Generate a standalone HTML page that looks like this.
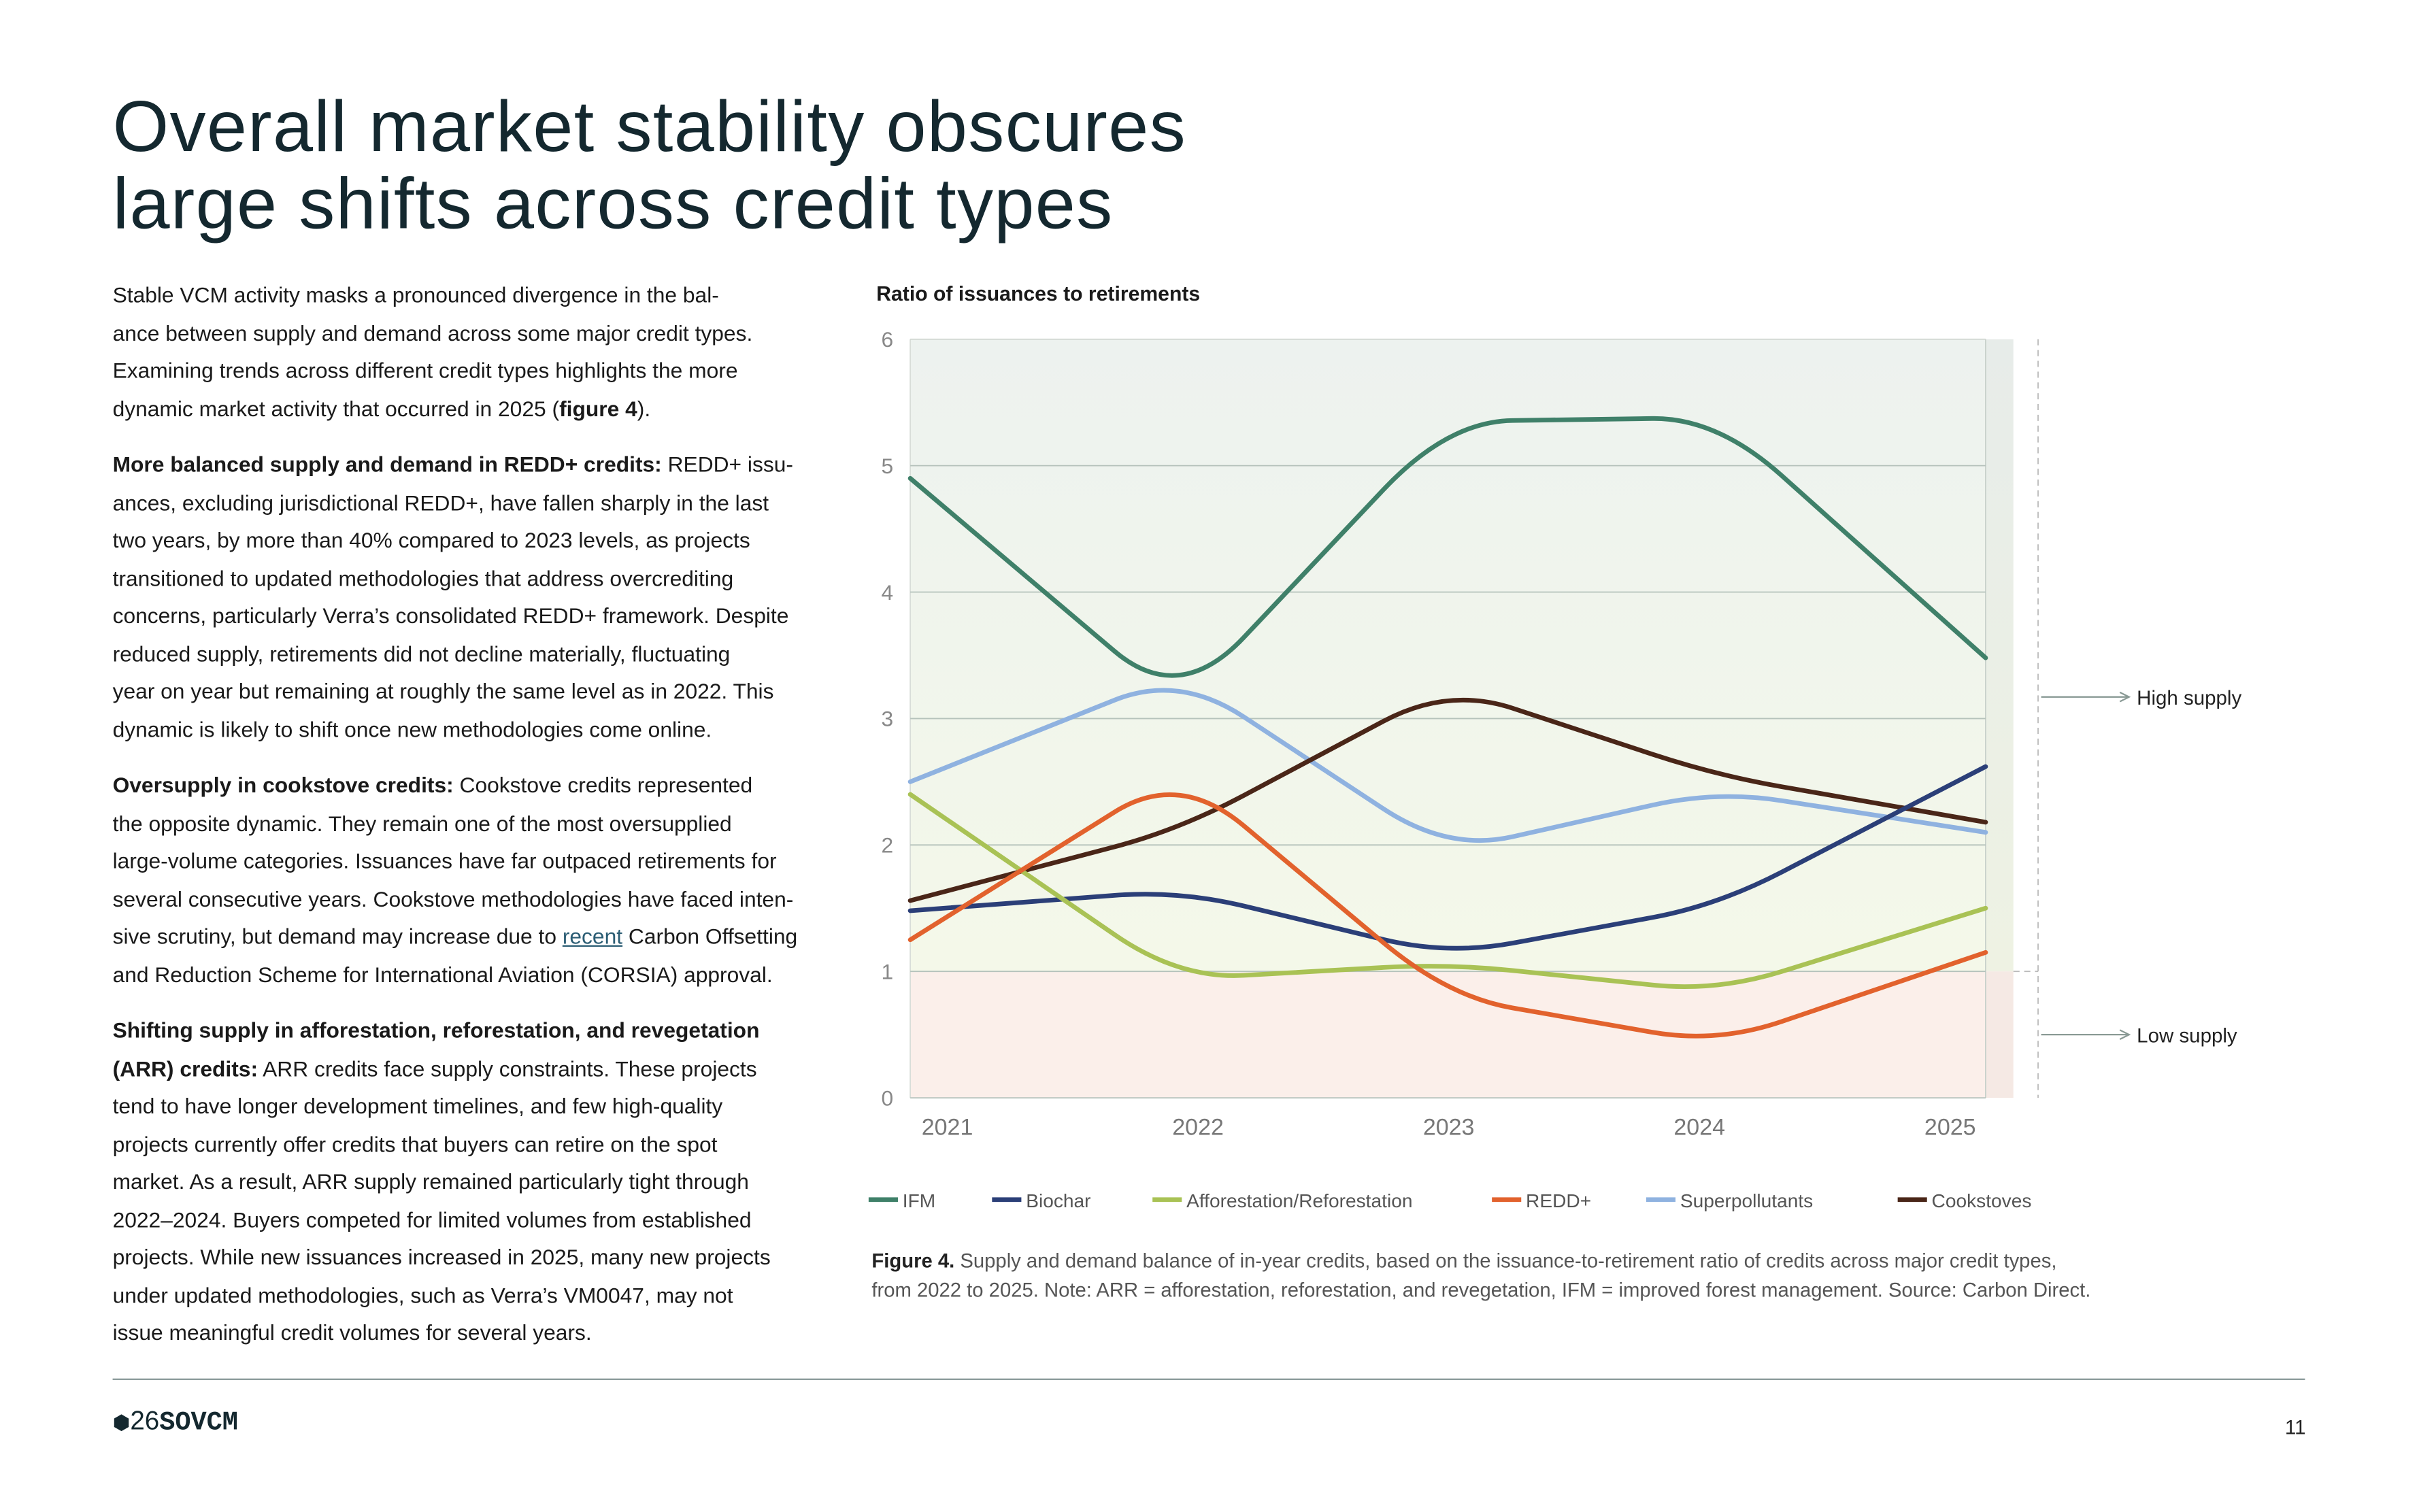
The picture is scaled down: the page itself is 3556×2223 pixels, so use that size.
<!DOCTYPE html>
<html><head><meta charset="utf-8"><style>
html,body{margin:0;padding:0;background:#fff;overflow:hidden}
#wrap{position:absolute;left:0;top:0;width:1556px;height:973px;transform:scale(2.268,2.267);transform-origin:0 0;font-family:"Liberation Sans",sans-serif;color:#1a1a1a}
.t{position:absolute;white-space:nowrap}
h1{position:absolute;left:73px;top:57px;margin:0;font-weight:400;font-size:46.8px;line-height:50px;color:#14282f;letter-spacing:0.6px}
.body{position:absolute;left:73px;font-size:14px;line-height:24.5px;color:#1a1a1a}
.body div{white-space:nowrap}
b{font-weight:700}
.cap{position:absolute;left:565px;top:808px;font-size:12.9px;line-height:19px;color:#555;white-space:nowrap}
</style></head><body>
<div id="wrap">
<h1>Overall market stability obscures<br>large shifts across credit types</h1>

<div class="body" style="top:179px">
<div>Stable VCM activity masks a pronounced divergence in the bal-</div>
<div>ance between supply and demand across some major credit types.</div>
<div>Examining trends across different credit types highlights the more</div>
<div>dynamic market activity that occurred in 2025 (<b>figure 4</b>).</div>
</div>
<div class="body" style="top:289px">
<div><b>More balanced supply and demand in REDD+ credits:</b> REDD+ issu-</div>
<div>ances, excluding jurisdictional REDD+, have fallen sharply in the last</div>
<div>two years, by more than 40% compared to 2023 levels, as projects</div>
<div>transitioned to updated methodologies that address overcrediting</div>
<div>concerns, particularly Verra’s consolidated REDD+ framework. Despite</div>
<div>reduced supply, retirements did not decline materially, fluctuating</div>
<div>year on year but remaining at roughly the same level as in 2022. This</div>
<div>dynamic is likely to shift once new methodologies come online.</div>
</div>
<div class="body" style="top:497px">
<div><b>Oversupply in cookstove credits:</b> Cookstove credits represented</div>
<div>the opposite dynamic. They remain one of the most oversupplied</div>
<div>large-volume categories. Issuances have far outpaced retirements for</div>
<div>several consecutive years. Cookstove methodologies have faced inten-</div>
<div>sive scrutiny, but demand may increase due to <span style="color:#2b5d74;text-decoration:underline">recent</span> Carbon Offsetting</div>
<div>and Reduction Scheme for International Aviation (CORSIA) approval.</div>
</div>
<div class="body" style="top:656px">
<div><b>Shifting supply in afforestation, reforestation, and revegetation</b></div>
<div><b>(ARR) credits:</b> ARR credits face supply constraints. These projects</div>
<div>tend to have longer development timelines, and few high-quality</div>
<div>projects currently offer credits that buyers can retire on the spot</div>
<div>market. As a result, ARR supply remained particularly tight through</div>
<div>2022–2024. Buyers competed for limited volumes from established</div>
<div>projects. While new issuances increased in 2025, many new projects</div>
<div>under updated methodologies, such as Verra’s VM0047, may not</div>
<div>issue meaningful credit volumes for several years.</div>
</div>

<div class="t" style="left:568px;top:183px;font-size:13.3px;font-weight:700">Ratio of issuances to retirements</div>

<svg id="chart" style="position:absolute;left:0;top:0" width="1556" height="973">
<defs>
<linearGradient id="bgUp" x1="0" y1="0" x2="0" y2="1">
<stop offset="0" stop-color="#edf2ef"/><stop offset="1" stop-color="#f4f8e9"/>
</linearGradient>
<marker id="arr" markerWidth="8" markerHeight="8" refX="7" refY="4" orient="auto"><path d="M1,1 L7,4 L1,7" fill="none" stroke="#8a9a95" stroke-width="1"/></marker>
</defs>
<g id="bg"></g><g id="grid"></g><g id="series"></g><g id="axes"></g>
</svg>

<div class="cap"><b style="color:#222">Figure 4.</b> Supply and demand balance of in-year credits, based on the issuance-to-retirement ratio of credits across major credit types,<br>from 2022 to 2025. Note: ARR = afforestation, reforestation, and revegetation, IFM = improved forest management. Source: Carbon Direct.</div>

<div style="position:absolute;left:73px;top:894px;width:1421px;height:1px;background:#8a9a9a"></div>
<div class="t" style="left:73px;top:912px;font-size:17px;color:#14282f"><span style="font-size:13px">⬢</span>26<b style="font-family:'Liberation Mono',monospace">SOVCM</b></div>
<div class="t" style="left:1481px;top:918px;font-size:13px;color:#222">11</div>
</div>
<script>
const years=["2021","2022","2023","2024","2025"];
const yTicks=[0,1,2,3,4,5,6];
const seriesNames=["IFM","Biochar","Afforestation/Reforestation","REDD+","Superpollutants","Cookstoves"];
const ifm=[4.9,3.1,5.35,5.38,3.48];
const biochar=[1.48,1.64,1.13,1.52,2.62];
const arr=[2.4,0.94,1.06,0.84,1.5];
const redd=[1.25,2.58,0.8,0.43,1.15];
const superp=[2.5,3.35,1.95,2.43,2.1];
const cook=[1.56,2.12,3.25,2.55,2.18];
const allSeries=[ifm,biochar,arr,redd,superp,cook];
const colors=["#3f8069","#2b3f78","#a9c255","#e2622d","#8fb2e0","#4a2618"];
const X0=590,X1=1287,Y0=712,Y6=220;
const xs=i=>X0+(X1-X0)*i/(years.length-1);
const ys=v=>Y0-(Y0-Y6)*v/6;
const NS="http://www.w3.org/2000/svg";
function mk(tag,attrs,parent){const e=document.createElementNS(NS,tag);for(const k in attrs)e.setAttribute(k,attrs[k]);parent.appendChild(e);return e;}
const bg=document.getElementById('bg'),grid=document.getElementById('grid'),ser=document.getElementById('series'),ax=document.getElementById('axes');
let r=mk('rect',{x:X0,y:Y6,width:1305-X0,height:ys(1)-Y6,fill:'url(#bgUp)'},bg);


r=mk('rect',{x:X0,y:ys(1),width:1305-X0,height:Y0-ys(1),fill:'#fbefea'},bg);


r=mk('rect',{x:X1,y:Y6,width:18,height:Y0-Y6,fill:'#000',opacity:0.025},bg);


mk('line',{x1:X1,y1:Y6,x2:X1,y2:Y0,stroke:'#c9d2cc','stroke-width':0.8},bg);
mk('line',{x1:X0,y1:Y6,x2:X0,y2:Y0,stroke:'#d8ddd8','stroke-width':0.8},bg);
yTicks.forEach(v=>{
  const l=mk('line',{x1:X0,y1:ys(v),x2:X1,y2:ys(v),stroke:v==6?'#d0d6d0':'#b5c2bb','stroke-width':0.8},grid);
  
  
  const t=mk('text',{x:579,y:ys(v)+5,'text-anchor':'end','font-size':14,fill:'#888','font-family':'Liberation Sans'},ax);
  t.textContent=v;
  
  
});
const lblX=[614,775,938,1101,1264];
years.forEach((y,i)=>{
  const t=mk('text',{x:lblX[0]+(lblX[4]-lblX[0])*i/4,y:736,'text-anchor':'middle','font-size':15,fill:'#777','font-family':'Liberation Sans'},ax);
  t.textContent=y;
  
  
});
mk('line',{x1:1321,y1:Y6,x2:1321,y2:Y0,stroke:'#bbb','stroke-width':0.8,'stroke-dasharray':'4,3'},ax);
mk('line',{x1:1305,y1:ys(1),x2:1321,y2:ys(1),stroke:'#bbb','stroke-width':0.8,'stroke-dasharray':'4,3'},ax);
[[452,'High supply'],[671,'Low supply']].forEach(([y,s])=>{
  const g=mk('g',{},ax);
  
  
  mk('line',{x1:1323,y1:y,x2:1380,y2:y,stroke:'#8a9a95','stroke-width':1,'marker-end':'url(#arr)'},g);
  const t=mk('text',{x:1385,y:y+5,'font-size':13,fill:'#222','font-family':'Liberation Sans'},g);
  t.textContent=s;
});
function pathFor(vals){
  const p=vals.map((v,i)=>[xs(i),ys(v)]);
  let d='M'+p[0][0]+','+p[0][1];
  const f=0.24;
  for(let i=1;i<p.length-1;i++){
    const a=p[i-1],b=p[i],c=p[i+1];
    const s=[b[0]+(a[0]-b[0])*f,b[1]+(a[1]-b[1])*f];
    const e=[b[0]+(c[0]-b[0])*f,b[1]+(c[1]-b[1])*f];
    d+=' L'+s[0]+','+s[1]+' Q'+b[0]+','+b[1]+' '+e[0]+','+e[1];
  }
  d+=' L'+p[p.length-1][0]+','+p[p.length-1][1];
  return d;
}
const order=[0,4,5,1,2,3];
order.forEach(k=>{
  const pth=mk('path',{d:pathFor(allSeries[k]),fill:'none',stroke:colors[k],'stroke-width':3,'stroke-linecap':'round','stroke-linejoin':'round'},ser);
  
  
});
const legX=[563,643,747,967,1067,1230];
seriesNames.forEach((n,k)=>{
  const g=mk('g',{},ax);
  
  
  mk('line',{x1:legX[k],y1:778,x2:legX[k]+19,y2:778,stroke:colors[k],'stroke-width':3},g);
  const t=mk('text',{x:legX[k]+22,y:783,'font-size':12.4,fill:'#555','font-family':'Liberation Sans'},g);
  t.textContent=n;
});
</script>
</body></html>
